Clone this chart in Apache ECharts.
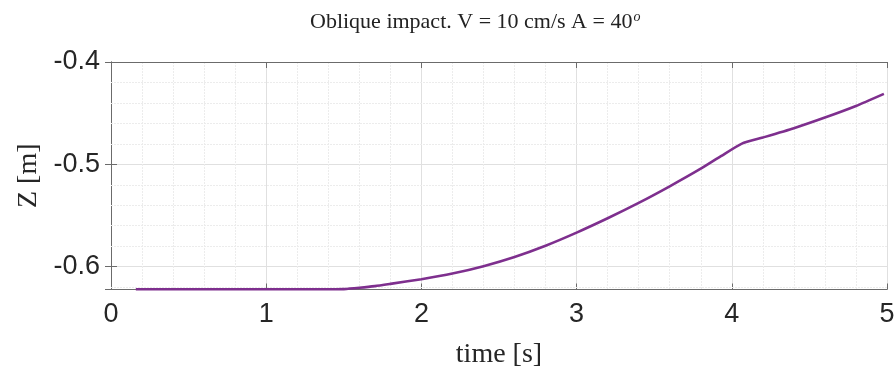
<!DOCTYPE html>
<html>
<head>
<meta charset="utf-8">
<script src="https://cdn.jsdelivr.net/npm/echarts@6/dist/echarts.min.js"></script>
<style>
  html, body { margin: 0; padding: 0; background: #fff; }
  #main { width: 894px; height: 369px; }
</style>
</head>
<body>
<div id="main"></div>
<script>
// Z position vs time
const time = [0.16, 0.5, 1.0, 1.45, 1.5, 1.6, 1.7, 1.8, 2.0, 2.2, 2.4, 2.6, 2.8, 3.0,
  3.2, 3.4, 3.6, 3.8, 3.93, 4.065, 4.2, 4.4, 4.6, 4.8, 4.98];
const zPos = [-0.622, -0.622, -0.622, -0.622, -0.6219, -0.6206, -0.6190, -0.6168, -0.6122,
  -0.6067, -0.5995, -0.5905, -0.5795, -0.5667, -0.5527, -0.5377, -0.5215, -0.5043, -0.4920,
  -0.4797, -0.4738, -0.4647, -0.4543, -0.4430, -0.4312];
// minor grid values on y (major ones are -0.6, -0.5, -0.4)
const yMinor = [-0.62, -0.58, -0.56, -0.54, -0.52, -0.48, -0.46, -0.44, -0.42];

const yMin = -0.6223, yMax = -0.4;
const boxColor = '#6b6b6b';
const gridColor = '#e0e0e0';
const tickFont = { fontFamily: 'Liberation Sans', fontSize: 27, color: '#262626' };

const chart = echarts.init(document.getElementById('main'));
chart.setOption({
  animation: false,
  title: {
    text: '{a|Oblique impact. V = 10 cm/s A = 40}{s|o}',
    left: 305, top: 5,
    textStyle: {
      rich: {
        a: { fontFamily: 'Liberation Serif', fontSize: 22, fontWeight: 'normal', color: '#222' },
        s: { fontFamily: 'Liberation Serif', fontSize: 14, fontStyle: 'italic', fontWeight: 'normal', color: '#222', padding: [0, 0, 11, 1] }
      }
    }
  },
  grid: { left: 111, right: 7, top: 62, bottom: 79.5, outerBoundsMode: 'none' },
  xAxis: [{
    type: 'value', min: 0, max: 5, interval: 1,
    name: 'time [s]', nameLocation: 'middle', nameGap: 51,
    nameTextStyle: { fontFamily: 'Liberation Serif', fontSize: 28, color: '#262626' },
    axisLine: { show: true, lineStyle: { color: boxColor } },
    axisTick: { show: true, inside: true, length: 6, lineStyle: { color: boxColor } },
    axisLabel: Object.assign({ margin: 12 }, tickFont),
    splitLine: { show: true, lineStyle: { color: gridColor } },
    minorTick: { show: false, splitNumber: 5 },
    minorSplitLine: { show: true, lineStyle: { color: '#ececec', type: [2, 1] } }
  }, {
    type: 'value', min: 0, max: 5, interval: 1, position: 'top',
    axisLine: { show: true, lineStyle: { color: boxColor } },
    axisTick: { show: true, inside: true, length: 6, lineStyle: { color: boxColor } },
    axisLabel: { show: false },
    splitLine: { show: false }
  }],
  yAxis: [{
    type: 'value', min: yMin, max: yMax, splitNumber: 2,
    name: 'Z [m]', nameLocation: 'middle', nameGap: 66, nameRotate: 90,
    nameTextStyle: { fontFamily: 'Liberation Serif', fontSize: 28, color: '#262626' },
    axisLine: { show: true, lineStyle: { color: boxColor } },
    axisTick: { show: true, inside: true, length: 6, lineStyle: { color: boxColor } },
    axisLabel: Object.assign({ margin: 11, showMinLabel: false, formatter: v => v.toFixed(1) }, tickFont),
    splitLine: { show: true, lineStyle: { color: gridColor } }
  }, {
    type: 'value', min: yMin, max: yMax, splitNumber: 2, position: 'right',
    axisLine: { show: true, lineStyle: { color: boxColor } },
    axisTick: { show: true, inside: true, length: 6, lineStyle: { color: boxColor } },
    axisLabel: { show: false },
    splitLine: { show: false }
  }],
  series: [{
    type: 'line',
    data: time.map((t, i) => [t, zPos[i]]),
    showSymbol: false,
    smooth: 0.2,
    lineStyle: { color: '#7E2F8E', width: 2.6 },
    clip: false,
    z: 5,
    markLine: {
      silent: true, symbol: 'none', label: { show: false },
      lineStyle: { color: '#ececec', type: [2, 1], width: 1 },
      data: yMinor.map(v => ({ yAxis: v }))
    }
  }]
});
</script>
</body>
</html>
